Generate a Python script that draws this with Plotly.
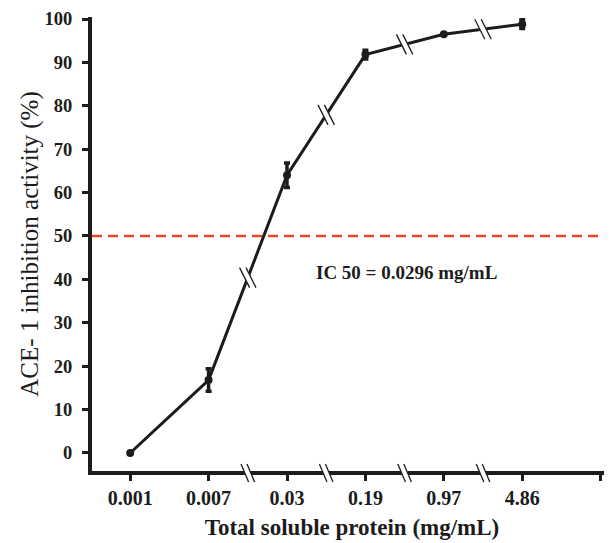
import plotly.graph_objects as go

# ---- data ----
categories = ["0.001", "0.007", "0.03", "0.19", "0.97", "4.86"]
inhibition = [0.0, 16.8, 64.0, 91.8, 96.5, 98.8]
inhibition_err = [0.0, 2.6, 2.8, 1.0, 0.0, 1.0]
y_ticks = [0, 10, 20, 30, 40, 50, 60, 70, 80, 90, 100]
ic50_level = 50
ic50_label = "IC 50 = 0.0296 mg/mL"
ic50_text_pos = (3.52, 41.5)
x_title = "Total soluble protein (mg/mL)"
y_title = "ACE- 1 inhibition activity (%)"

BLACK = "#1c1c1c"
RED = "#e8472b"
SERIF = "Liberation Serif, Times New Roman, serif"

idx = list(range(len(categories)))
tickvals = list(range(len(categories) + 1))
ticktext = categories + [""]

Y_MIN, Y_MAX = -4.15, 100.46
X_MIN, X_MAX = -0.487, 6.145

fig = go.Figure()

fig.add_trace(go.Scatter(
    x=idx, y=inhibition,
    mode="lines+markers",
    line=dict(color=BLACK, width=3),
    marker=dict(color=BLACK, size=8, symbol="circle"),
    error_y=dict(type="data", array=inhibition_err, visible=True,
                 color=BLACK, thickness=3.5, width=3),
    showlegend=False,
    cliponaxis=False,
))

shapes = []
# IC50 dashed reference line
shapes.append(dict(type="line", xref="paper", x0=0, x1=1, yref="y",
                   y0=ic50_level, y1=ic50_level,
                   line=dict(color=RED, width=2.5, dash="10px,6px"),
                   layer="below"))


def break_mark(xc, yc, yref, dx, dy, sep, white_w, yshift=0):
    out = []
    out.append(dict(type="line", xref="x", yref=yref,
                    xsizemode="pixel", ysizemode="pixel",
                    xanchor=xc, yanchor=yc,
                    x0=-dx * 0.8, x1=dx * 0.8,
                    y0=yshift + dy * 0.8, y1=yshift - dy * 0.8,
                    line=dict(color="white", width=white_w), layer="above"))
    for off in (-sep, sep):
        out.append(dict(type="line", xref="x", yref=yref,
                        xsizemode="pixel", ysizemode="pixel",
                        xanchor=xc, yanchor=yc,
                        x0=off - dx, x1=off + dx,
                        y0=yshift + dy, y1=yshift - dy,
                        line=dict(color=BLACK, width=1.3), layer="above"))
    return out


# breaks on the curve and on the x axis, between categories 1..5
for i in range(1, len(categories) - 1):
    xm = (idx[i] + idx[i + 1]) / 2
    ym = (inhibition[i] + inhibition[i + 1]) / 2
    shapes += break_mark(xm, ym, "y", 5, 10, 3.2, 6.5)
    shapes += break_mark(xm, 0, "paper", 3.8, 9, 3, 6, yshift=-2)

fig.update_layout(
    width=604, height=535,
    margin=dict(l=84, r=0, t=9, b=72),
    plot_bgcolor="white", paper_bgcolor="white",
    shapes=shapes,
    font=dict(family=SERIF, color=BLACK),
    xaxis=dict(
        range=[X_MIN, X_MAX], tickmode="array", tickvals=tickvals, ticktext=ticktext,
        showgrid=False, zeroline=False,
        showline=True, linecolor=BLACK, linewidth=4,
        ticks="outside", ticklen=6, tickwidth=3, tickcolor=BLACK,
        tickfont=dict(family=SERIF, size=20, color=BLACK, weight="bold"),
        title=dict(text=x_title, font=dict(family=SERIF, size=23, color=BLACK, weight="bold"),
                   standoff=12),
    ),
    yaxis=dict(
        range=[Y_MIN, Y_MAX], tickmode="array", tickvals=y_ticks,
        showgrid=False, zeroline=False,
        showline=True, linecolor=BLACK, linewidth=4,
        ticks="outside", ticklen=6, tickwidth=3, tickcolor=BLACK,
        ticklabelstandoff=6,
        tickfont=dict(family=SERIF, size=18.5, color=BLACK, weight="bold"),
        title=dict(text=y_title, font=dict(family=SERIF, size=25, color=BLACK),
                   standoff=0),
    ),
    annotations=[dict(x=ic50_text_pos[0], y=ic50_text_pos[1], xref="x", yref="y",
                      text=ic50_label, showarrow=False,
                      font=dict(family=SERIF, size=19, color=BLACK, weight="bold"))],
)

fig.write_html("out.html")
